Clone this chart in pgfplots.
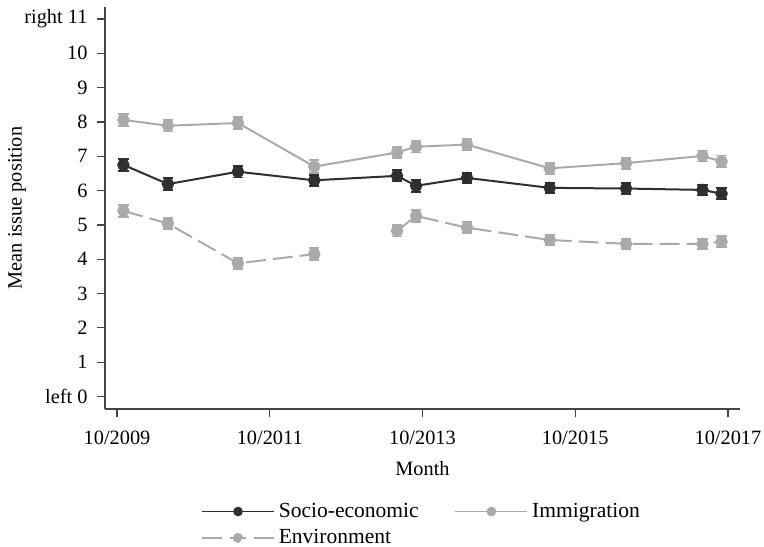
\documentclass[border=0pt]{standalone}
\usepackage{fontspec}
\setmainfont{Liberation Serif}
\usepackage{pgfplots}
\pgfplotsset{compat=1.18}

\definecolor{darkser}{RGB}{47,47,47}
\definecolor{lightser}{RGB}{168,170,173}

% months after 10/2009, mean position, half-width of error bar
\pgfplotstableread{
m   y     e
1   6.75  0.17
8   6.19  0.17
19  6.55  0.17
31  6.30  0.16
44  6.43  0.16
47  6.14  0.17
55  6.37  0.15
68  6.08  0.15
80  6.06  0.15
92  6.02  0.15
95  5.91  0.16
}\socio

\pgfplotstableread{
m   y     e
1   8.06  0.17
8   7.89  0.17
19  7.97  0.17
31  6.70  0.18
44  7.11  0.17
47  7.28  0.17
55  7.34  0.16
68  6.65  0.16
80  6.80  0.16
92  7.01  0.16
95  6.85  0.17
}\immig

% the environment item was not asked in month 37: nan breaks the line there
\pgfplotstableread{
m   y     e
1   5.41  0.17
8   5.04  0.17
19  3.88  0.16
31  4.15  0.17
37  nan   0
44  4.83  0.17
47  5.26  0.17
55  4.92  0.16
68  4.56  0.15
80  4.45  0.15
92  4.45  0.15
95  4.51  0.16
}\envir

\newcommand{\smallfont}{\fontsize{10.2pt}{12pt}\selectfont}

\begin{document}
\fontsize{10.8pt}{13pt}\selectfont
\begin{tikzpicture}
\begin{axis}[
  at={(0,0)}, anchor=south west,
  scale only axis,
  width=317.5bp, height=201bp,
  xmin=-1.89, xmax=97.9,
  ymin=-0.364, ymax=11.35,
  axis x line=bottom, axis y line=left,
  axis line style={-, line width=0.7bp, color=darkser!90},
  tick style={line width=0.6bp, color=darkser!90},
  tick align=outside,
  major tick length=4bp,
  xtick={0,24,48,72,96},
  xticklabels={10/2009,10/2011,10/2013,10/2015,10/2017},
  ytick={0,1,...,11},
  yticklabels={left 0,1,2,3,4,5,6,7,8,9,10,right 11},
  xticklabel style={yshift=-3bp, font=\smallfont},
  yticklabel style={xshift=-1bp, font=\smallfont},
  xlabel={Month},
  ylabel={Mean issue position},
  xlabel style={at={(axis description cs:0.5,-0.149)}, anchor=center, font=\smallfont},
  ylabel style={at={(axis description cs:-0.1386,0.5)}, anchor=center, font=\smallfont},
  every axis plot/.append style={line width=1bp},
  error bars/y dir=both,
  error bars/y explicit,
  error bars/error mark options={rotate=90, mark size=2.6bp, line width=0.9bp},
  error bars/error bar style={line width=0.9bp},
  legend columns=2,
  legend cell align=left,
  legend style={
    at={(axis description cs:0.5,-0.2125)}, anchor=north,
    draw=none, fill=none,
    /tikz/every even column/.append style={column sep=16bp},
    row sep=0.5bp,
  },
  legend image code/.code={
    \draw[line width=0.8bp, mark repeat=2, mark phase=2, mark size=2bp]
      plot coordinates {(0bp,0bp) (18bp,0bp) (36bp,0bp)};
  },
]
\addplot[color=darkser, mark=*, mark size=2.6bp, mark options={solid}]
  table[x=m, y=y, y error=e] {\socio};
\addlegendentry{Socio-economic}

\addplot[color=lightser, mark=*, mark size=2.6bp, mark options={solid}]
  table[x=m, y=y, y error=e] {\immig};
\addlegendentry{Immigration}

\addplot[color=lightser, dash pattern=on 10bp off 3.5bp, mark=*, mark size=2.6bp,
  mark options={solid}, unbounded coords=jump,
  legend image code/.code={
    \draw[line width=0.8bp, dash pattern=on 10bp off 4bp on 8bp off 4bp on 10bp off 0bp]
      (0bp,0bp) -- (36bp,0bp);
    \fill (18bp,0bp) circle[radius=2bp];
  }]
  table[x=m, y=y, y error=e] {\envir};
\addlegendentry{Environment}
\end{axis}
\pgfresetboundingbox
\useasboundingbox (-52.5bp,-69bp) rectangle (329.5bp,204.5bp);
\end{tikzpicture}
\end{document}
